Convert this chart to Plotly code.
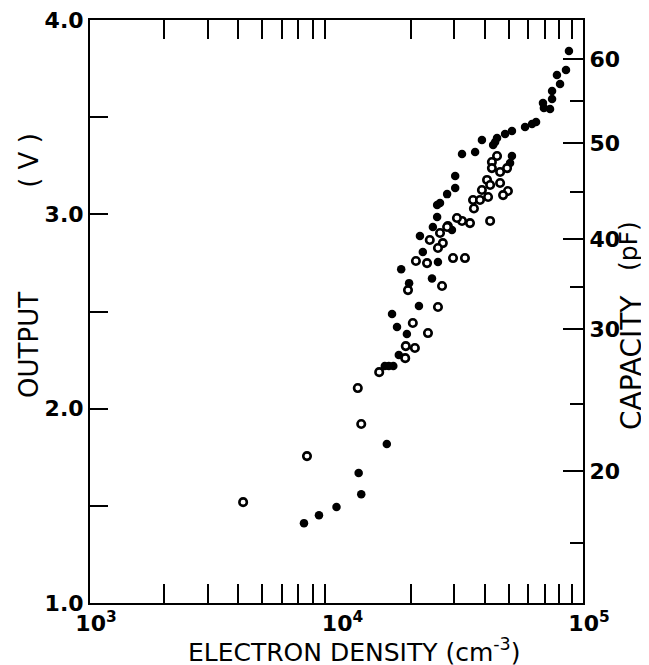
import plotly.graph_objects as go

# ---- data ----
# filled circles: electron density (cm^-3), output (V)
filled_density = [8.77e4, 8.53e4, 7.84e4, 8.07e4, 7.49e4, 7.49e4, 6.88e4, 6.94e4, 7.35e4,
                  6.45e4, 6.21e4, 5.82e4, 5.15e4, 4.83e4, 4.48e4, 4.40e4, 4.32e4, 3.89e4,
                  3.65e4, 3.23e4, 5.15e4, 5.06e4, 3.03e4, 3.03e4, 2.81e4, 2.63e4, 2.56e4,
                  2.56e4, 2.46e4, 2.94e4, 2.18e4, 2.24e4, 2.58e4, 2.44e4, 1.83e4, 1.97e4,
                  2.16e4, 1.68e4, 1.76e4, 1.93e4, 1.79e4, 1.57e4, 1.63e4, 1.70e4, 1.60e4,
                  1.23e4, 1.26e4, 1.00e4, 8.49e3, 7.38e3]
filled_output = [3.84, 3.743, 3.717, 3.671, 3.635, 3.593, 3.573, 3.547, 3.542,
                 3.475, 3.465, 3.449, 3.429, 3.413, 3.393, 3.372, 3.357, 3.382,
                 3.321, 3.310, 3.300, 3.264, 3.197, 3.135, 3.104, 3.058, 3.048,
                 2.986, 2.935, 2.919, 2.888, 2.806, 2.755, 2.670, 2.718, 2.646,
                 2.528, 2.487, 2.420, 2.384, 2.276, 2.219, 2.219, 2.219, 1.818,
                 1.669, 1.560, 1.494, 1.452, 1.411]

# open circles
open_density = [4.48e4, 4.27e4, 4.27e4, 4.61e4, 4.92e4, 4.61e4, 4.08e4, 4.20e4, 4.96e4,
                4.74e4, 3.89e4, 3.58e4, 3.82e4, 4.12e4, 3.61e4, 4.20e4, 3.48e4, 3.23e4,
                3.08e4, 2.83e4, 2.63e4, 2.39e4, 2.70e4, 2.58e4, 2.97e4, 3.32e4, 2.10e4,
                2.33e4, 1.95e4, 2.68e4, 2.58e4, 2.04e4, 2.35e4, 1.91e4, 2.08e4, 1.90e4,
                1.49e4, 1.22e4, 1.26e4, 7.59e3, 4.18e3, 2.81e4]
open_output = [3.300, 3.269, 3.238, 3.218, 3.238, 3.161, 3.177, 3.151, 3.120,
               3.099, 3.125, 3.074, 3.074, 3.089, 3.030, 2.966, 2.955, 2.966,
               2.981, 2.940, 2.904, 2.868, 2.852, 2.827, 2.775, 2.775, 2.760,
               2.749, 2.610, 2.631, 2.523, 2.441, 2.389, 2.322, 2.312, 2.260,
               2.188, 2.106, 1.921, 1.756, 1.519, 2.935]

# axis ticks
output_ticks = [1.0, 2.0, 3.0, 4.0]
output_tick_labels = ["1.0", "2.0", "3.0", "4.0"]
output_minor = [1.5, 2.5, 3.5]
density_decades = [1e3, 1e4, 1e5]
density_labels = ["10<sup>3</sup>", "10<sup>4</sup>", "10<sup>5</sup>"]
density_minor = [m * d for d in (1e3, 1e4) for m in range(2, 10)]
# capacity scale (pF) and where it sits on the output (V) scale
capacity_labels = ["60", "50", "40", "30", "20"]
capacity_at_output = [3.799, 3.367, 2.873, 2.410, 1.679]
capacity_minor_at_output = [3.583, 3.115, 2.626, 2.024, 1.308]

FONT = "DejaVu Sans"
TICKFONT = dict(family=FONT, size=22, weight="bold")
TITLEFONT = dict(family=FONT, size=25)
SIDEFONT = dict(family=FONT, size=26)

fig = go.Figure()
fig.add_trace(go.Scatter(x=filled_density, y=filled_output, mode="markers",
                         marker=dict(size=8.5, color="black", line=dict(width=0)),
                         showlegend=False))
fig.add_trace(go.Scatter(x=open_density, y=open_output, mode="markers",
                         marker=dict(size=7.5, color="white", line=dict(width=2.6, color="black")),
                         showlegend=False))

axis_common = dict(showgrid=False, zeroline=False, showline=True, linecolor="black",
                   linewidth=2, tickcolor="black", tickwidth=2, automargin=False,
                   ticklabeloverflow="allow")

fig.update_layout(
    width=641, height=657,
    margin=dict(l=82, r=66, t=12, b=62),
    paper_bgcolor="white", plot_bgcolor="white",
    font=dict(family=FONT, size=19, color="black"),
    xaxis=dict(type="log", range=[3, 5], tickmode="array", tickvals=density_decades,
               ticktext=density_labels, ticks="inside", ticklen=0, mirror="ticks",
               ticklabelshift=6,
               minor=dict(tickmode="array", tickvals=density_minor, ticks="inside",
                          ticklen=19, tickwidth=2, tickcolor="black"),
               tickfont=TICKFONT, **axis_common),
    yaxis=dict(range=[1, 4], tickmode="array", tickvals=output_ticks,
               ticktext=output_tick_labels, ticks="inside", ticklen=18,
               minor=dict(tickmode="array", tickvals=output_minor, ticks="inside",
                          ticklen=18, tickwidth=2, tickcolor="black"),
               tickfont=TICKFONT, **axis_common),
    yaxis2=dict(overlaying="y", side="right", range=[1, 4], tickmode="array",
                tickvals=capacity_at_output, ticktext=capacity_labels,
                ticks="inside", ticklen=20,
                minor=dict(tickmode="array", tickvals=capacity_minor_at_output,
                           ticks="inside", ticklen=13, tickwidth=2, tickcolor="black"),
                tickfont=TICKFONT, **axis_common),
)
# invisible trace to activate the right axis
fig.add_trace(go.Scatter(x=[1e3], y=[1], yaxis="y2", mode="markers",
                         marker=dict(opacity=0), showlegend=False, hoverinfo="skip"))

fig.add_annotation(text="ELECTRON DENSITY (cm<sup>-3</sup>)", xref="paper", yref="paper",
                   x=0.5375, y=-0.081, showarrow=False, font=TITLEFONT,
                   xanchor="center", yanchor="middle")
fig.add_annotation(text="OUTPUT", xref="paper", yref="paper", x=-0.124, y=0.4425,
                   textangle=-90, showarrow=False, font=SIDEFONT,
                   xanchor="center", yanchor="middle")
fig.add_annotation(text="( V )", xref="paper", yref="paper", x=-0.124, y=0.76,
                   textangle=-90, showarrow=False, font=SIDEFONT,
                   xanchor="center", yanchor="middle")
fig.add_annotation(text="CAPACITY", xref="paper", yref="paper", x=1.097, y=0.413,
                   textangle=-90, showarrow=False, font=dict(family=FONT, size=28),
                   xanchor="center", yanchor="middle")
fig.add_annotation(text="(pF)", xref="paper", yref="paper", x=1.091, y=0.612,
                   textangle=-90, showarrow=False, font=dict(family=FONT, size=25),
                   xanchor="center", yanchor="middle")

fig.write_html("out.html")
